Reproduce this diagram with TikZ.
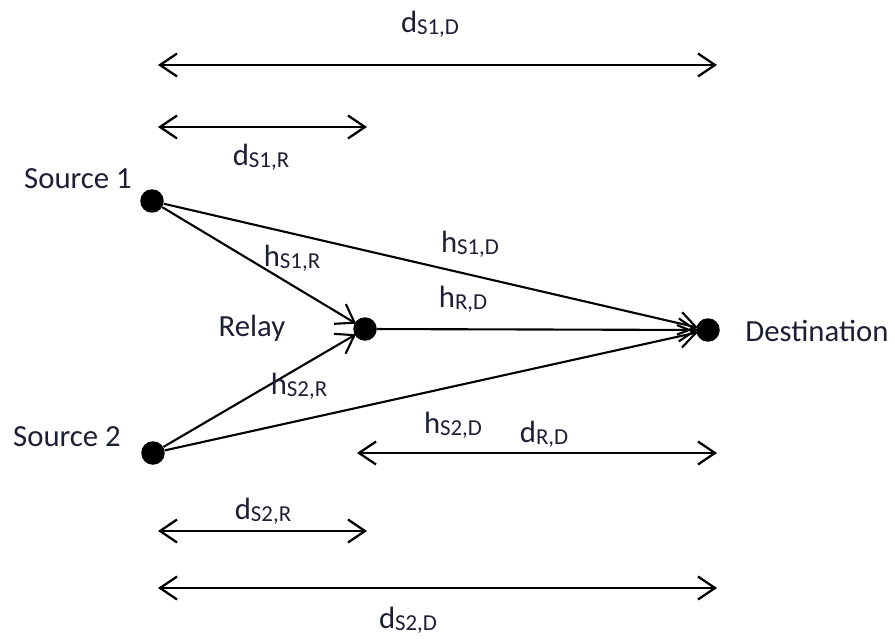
\documentclass[tikz,border=0pt]{standalone}
\usepackage{fontspec}
\setmainfont{Carlito}
\usepackage{tikz}
\usetikzlibrary{arrows.meta}
\tikzset{>={Straight Barb[length=3.4mm,width=4.6mm]}}
\definecolor{labelcol}{RGB}{30,30,55}
\newcommand{\lbl}[2]{#1\raisebox{-1.2pt}{\fontsize{13}{13}\selectfont #2}}
\tikzset{
  terminal/.style={circle,fill=black,inner sep=0pt,minimum size=4.7mm},
  channel/.style={->,line width=1.2pt,shorten >=-1pt},
  dist/.style={<->,line width=1.3pt},
  txt/.style={text=labelcol,font=\fontsize{17.5}{20}\selectfont,inner sep=0pt}
}

\begin{document}
\begin{tikzpicture}[x=0.02cm,y=-0.02cm]
    \useasboundingbox (0,0) rectangle (895,642);
    % terminals
    \node[terminal] (s1) at (152,201) {};
    \node[terminal] (s2) at (153,453) {};
    \node[terminal] (relay) at (365,329) {};
    \node[terminal] (dest) at (708,330) {};
    \node[txt] (s1name) at (78,179) {Source 1};
    \node[txt] (s2name) at (67,437) {Source 2};
    \node[txt] (relayname) at (252,328) {Relay};
    \node[txt] (destname) at (817,331) {Destination};
    % channels
    \draw[channel] (s1) -- (relay);
    \draw[channel] (s2) -- (relay);
    \draw[channel] (s1) -- (dest);
    \draw[channel] (s2) -- (dest);
    \draw[channel] (relay) -- (dest);
    \node[txt] (hs1r) at (292,258) {\lbl{h}{S1,R}};
    \node[txt] (hs1d) at (470,244) {\lbl{h}{S1,D}};
    \node[txt] (hrd) at (463,299) {\lbl{h}{R,D}};
    \node[txt] (hs2r) at (299,386) {\lbl{h}{S2,R}};
    \node[txt] (hs2d) at (453,425) {\lbl{h}{S2,D}};
    % distances
    \coordinate (ds1dA) at (158,65);  \coordinate (ds1dB) at (717,65);
    \coordinate (ds1rA) at (158,127); \coordinate (ds1rB) at (367,127);
    \coordinate (drdA) at (357,453);  \coordinate (drdB) at (717,453);
    \coordinate (ds2rA) at (158,531); \coordinate (ds2rB) at (367,531);
    \coordinate (ds2dA) at (158,588); \coordinate (ds2dB) at (717,588);
    \draw[dist] (ds1dA) -- (ds1dB);
    \draw[dist] (ds1rA) -- (ds1rB);
    \draw[dist] (drdA) -- (drdB);
    \draw[dist] (ds2rA) -- (ds2rB);
    \draw[dist] (ds2dA) -- (ds2dB);
    \node[txt] (ds1d) at (430,24) {\lbl{d}{S1,D}};
    \node[txt] (ds1r) at (261,157) {\lbl{d}{S1,R}};
    \node[txt] (drd) at (544,434) {\lbl{d}{R,D}};
    \node[txt] (ds2r) at (263,511) {\lbl{d}{S2,R}};
    \node[txt] (ds2d) at (408,620) {\lbl{d}{S2,D}};
\end{tikzpicture}
\end{document}
